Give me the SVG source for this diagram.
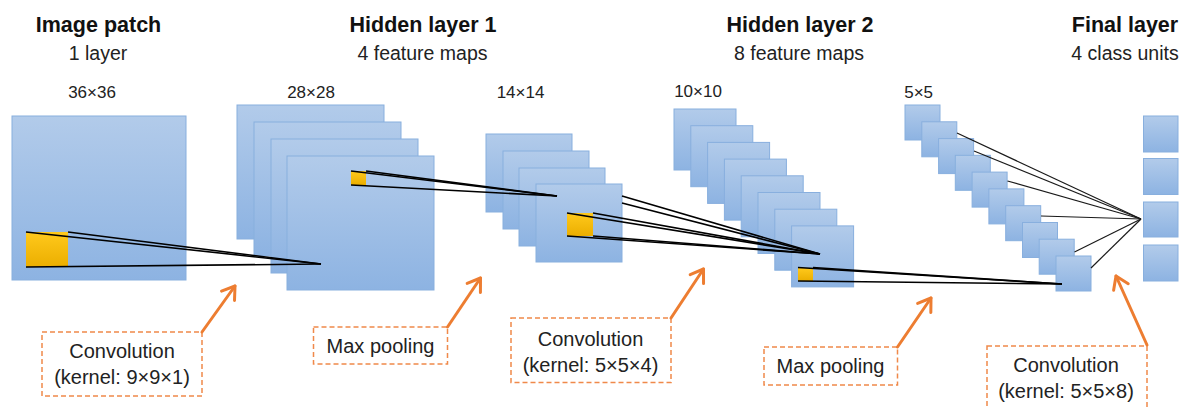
<svg xmlns="http://www.w3.org/2000/svg" width="1183" height="407" viewBox="0 0 1183 407">
<defs>
<linearGradient id="blue" x1="0" y1="0" x2="0" y2="1"><stop offset="0" stop-color="#B2CBEA"/><stop offset="1" stop-color="#8DB3E2"/></linearGradient>
<linearGradient id="gold" x1="0" y1="0" x2="0" y2="1"><stop offset="0" stop-color="#FFC91C"/><stop offset="1" stop-color="#EBAE00"/></linearGradient>
<marker id="ah" markerUnits="userSpaceOnUse" markerWidth="22" markerHeight="22" viewBox="0 0 22 22" refX="17" refY="11" orient="auto"><path d="M5,3 L17,11 L5,19" fill="none" stroke="#ED7D31" stroke-width="3" stroke-linecap="round" stroke-linejoin="round"/></marker>
</defs>
<style>
.m{fill:url(#blue);stroke:#88AFDE;stroke-width:1}
.y{fill:url(#gold)}
.t{font-family:"Liberation Sans",Arial,sans-serif;fill:#111;text-anchor:middle}
.h{font-size:21.5px;font-weight:bold}
.s{font-size:19.5px;fill:#222}
.d{font-size:17px;fill:#222}
.b{font-size:20px;fill:#222}
.box{fill:#fff;stroke:#F0894A;stroke-width:1.5;stroke-dasharray:5 3}
.k{stroke:#000;stroke-width:1.6;fill:none}
.k2{stroke:#1a1a1a;stroke-width:1.2;fill:none}
.ar{stroke:#ED7D31;stroke-width:3;fill:none;marker-end:url(#ah);stroke-linecap:round}
</style>
<rect width="1183" height="407" fill="#fff"/>

<g id="image-patch">
<text class="t h" x="98.5" y="32">Image patch</text>
<text class="t s" x="98" y="60">1 layer</text>
<text class="t d" x="92" y="98">36×36</text>
<rect class="m" x="12" y="116" width="174" height="164"/>
<rect class="y" x="26" y="232" width="42" height="35"/>
</g>

<g id="hidden-layer-1">
<text class="t h" x="423" y="32">Hidden layer 1</text>
<text class="t s" x="422.5" y="60">4 feature maps</text>
<text class="t d" x="311" y="98">28×28</text>
<rect class="m" x="237" y="105" width="147" height="134"/>
<rect class="m" x="254" y="122" width="147" height="134"/>
<rect class="m" x="271" y="139" width="147" height="134"/>
<rect class="m" x="287" y="156" width="147" height="134"/>
<rect class="y" x="351" y="171" width="15" height="14"/>
</g>

<g id="pooled-layer-1">
<text class="t d" x="520.5" y="98">14×14</text>
<rect class="m" x="486" y="134" width="86" height="78"/>
<rect class="m" x="503" y="151" width="86" height="78"/>
<rect class="m" x="519" y="168" width="86" height="78"/>
<rect class="m" x="536" y="184" width="86" height="78"/>
<rect class="y" x="567" y="213" width="26" height="23"/>
</g>

<g id="hidden-layer-2">
<text class="t h" x="800" y="32">Hidden layer 2</text>
<text class="t s" x="799" y="60">8 feature maps</text>
<text class="t d" x="698" y="97">10×10</text>
<rect class="m" x="674" y="109" width="62" height="61"/>
<rect class="m" x="690.8" y="125.7" width="62" height="61"/>
<rect class="m" x="707.6" y="142.4" width="62" height="61"/>
<rect class="m" x="724.4" y="159.1" width="62" height="61"/>
<rect class="m" x="741.2" y="175.8" width="62" height="61"/>
<rect class="m" x="758" y="192.5" width="62" height="61"/>
<rect class="m" x="774.8" y="209.2" width="62" height="61"/>
<rect class="m" x="791.6" y="225.9" width="62" height="61"/>
<rect class="y" x="798" y="268" width="15" height="13"/>
</g>

<g id="pooled-layer-2">
<text class="t d" x="918.6" y="98">5×5</text>
<rect class="m" x="905" y="105" width="35" height="35"/>
<rect class="m" x="921.8" y="121.8" width="35" height="35"/>
<rect class="m" x="938.6" y="138.6" width="35" height="35"/>
<rect class="m" x="955.3" y="155.3" width="35" height="35"/>
<rect class="m" x="972.1" y="172.1" width="35" height="35"/>
<rect class="m" x="988.9" y="188.9" width="35" height="35"/>
<rect class="m" x="1005.7" y="205.7" width="35" height="35"/>
<rect class="m" x="1022.5" y="222.5" width="35" height="35"/>
<rect class="m" x="1039.2" y="239.2" width="35" height="35"/>
<rect class="m" x="1056" y="256" width="35" height="35"/>
</g>

<g id="final-layer">
<text class="t h" x="1125" y="32">Final layer</text>
<text class="t s" x="1125" y="60">4 class units</text>
<rect class="m" x="1143.5" y="116" width="34.5" height="36"/>
<rect class="m" x="1143.5" y="158.5" width="34.5" height="36"/>
<rect class="m" x="1143.5" y="202" width="34.5" height="35"/>
<rect class="m" x="1143.5" y="245" width="34.5" height="36"/>
</g>

<g id="op-conv-1">
<rect class="box" x="42" y="332" width="160" height="64"/>
<text class="t b" x="122" y="358">Convolution</text>
<text class="t b" x="122" y="384">(kernel: 9×9×1)</text>
</g>
<g id="op-pool-1">
<rect class="box" x="313.5" y="327" width="134" height="37"/>
<text class="t b" x="380.5" y="352.5">Max pooling</text>
</g>
<g id="op-conv-2">
<rect class="box" x="511" y="318" width="160" height="64.5"/>
<text class="t b" x="590.5" y="345.5">Convolution</text>
<text class="t b" x="590.5" y="371.5">(kernel: 5×5×4)</text>
</g>
<g id="op-pool-2">
<rect class="box" x="764" y="347" width="133.5" height="38"/>
<text class="t b" x="830.5" y="373">Max pooling</text>
</g>
<g id="op-conv-3">
<rect class="box" x="987" y="346" width="160" height="66"/>
<text class="t b" x="1066" y="372">Convolution</text>
<text class="t b" x="1066" y="398">(kernel: 5×5×8)</text>
</g>

<g id="connectors">
<line class="k" x1="26" y1="232" x2="321" y2="264"/>
<line class="k" x1="68" y1="232" x2="321" y2="264"/>
<line class="k" x1="26" y1="267" x2="321" y2="264"/>
<line class="k" x1="351" y1="171" x2="557" y2="196"/>
<line class="k" x1="366" y1="171" x2="557" y2="196"/>
<line class="k" x1="351" y1="185" x2="557" y2="196"/>
<line class="k" x1="622" y1="196" x2="820" y2="254"/>
<line class="k" x1="622" y1="203" x2="820" y2="254"/>
<line class="k" x1="567" y1="213" x2="820" y2="254"/>
<line class="k" x1="593" y1="213" x2="820" y2="254"/>
<line class="k" x1="567" y1="236" x2="820" y2="254"/>
<line class="k" x1="593" y1="236" x2="820" y2="254"/>
<line class="k" x1="798" y1="267.5" x2="1062" y2="284"/>
<line class="k" x1="813" y1="267.5" x2="1062" y2="284"/>
<line class="k" x1="798" y1="281" x2="1062" y2="284"/>
<line class="k2" x1="957" y1="133" x2="1141" y2="219"/>
<line class="k2" x1="974" y1="151" x2="1141" y2="219"/>
<line class="k2" x1="1007.5" y1="181" x2="1141" y2="219"/>
<line class="k2" x1="1041" y1="216" x2="1141" y2="219"/>
<line class="k2" x1="1074.5" y1="252" x2="1141" y2="219"/>
<line class="k2" x1="1091" y1="268" x2="1141" y2="219"/>
<line class="ar" x1="202" y1="332" x2="235" y2="286"/>
<line class="ar" x1="447.5" y1="327" x2="480.5" y2="278"/>
<line class="ar" x1="671" y1="318" x2="703.5" y2="269"/>
<line class="ar" x1="897.5" y1="347" x2="931" y2="298"/>
<line class="ar" x1="1147" y1="345" x2="1116" y2="276"/>
</g>
</svg>
